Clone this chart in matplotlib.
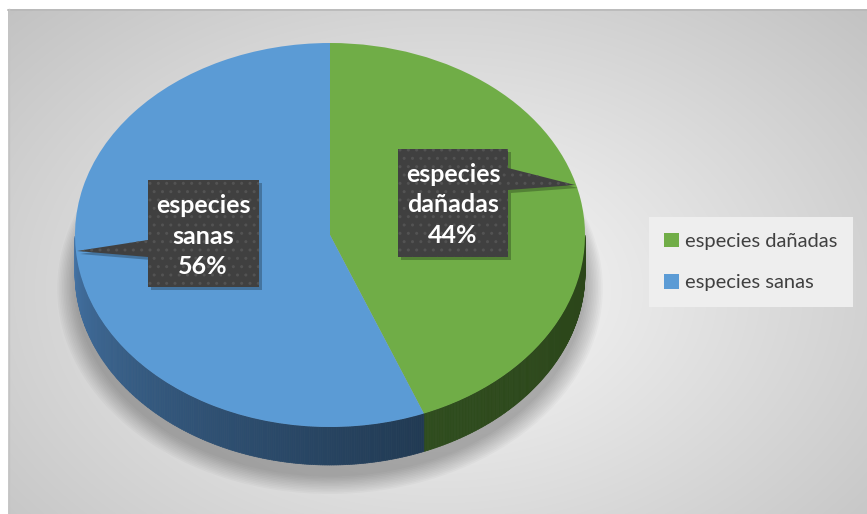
import matplotlib.pyplot as plt
import numpy as np
from matplotlib.collections import PolyCollection
from matplotlib.colors import to_rgb
from matplotlib.patches import Ellipse, Polygon

# datos del gráfico
categorias = ['especies dañadas', 'especies sanas']
porcentajes = [44, 56]
colores = ['#70ad47', '#5b9bd5']
colores_lado = [('#2f4d1e', '#2b4519'), ('#4676a8', '#213a53')]

W, H = 867, 514
fig = plt.figure(figsize=(W / 100, H / 100), dpi=100)
fig.patch.set_facecolor('white')

# fondo con degradado radial
bg = fig.add_axes([0, 0, 1, 1])
bg.set_xlim(0, W)
bg.set_ylim(H, 0)
bg.axis('off')
yy, xx = np.mgrid[0:H, 0:W]
d = np.sqrt(((xx - 440) / 480) ** 2 + ((yy - 290) / 330) ** 2)
gris = np.clip(250 - 45 * d, 0, 255)
gris[(xx < 8) | (yy < 9)] = 255
img = np.dstack([gris, gris, gris]) / 255
bg.imshow(img, extent=(0, W, H, 0), aspect='auto', zorder=0)
bg.plot([8, W], [9.5, 9.5], color='#b8b8b8', lw=1.2, zorder=1)
bg.plot([8.5, 8.5], [9, H], color='#c4c4c4', lw=1, zorder=1)

# pastel 3D: cara superior con ax.pie, lado con polígonos
prof = 38 / 192
ax = fig.add_axes([75 / W, (H - 465) / H, 510 / W, (465 - 43) / H])
ax.patch.set_alpha(0)
wedges, _ = ax.pie(porcentajes, colors=colores, startangle=90,
                   counterclock=False, radius=1,
                   wedgeprops=dict(linewidth=0, zorder=3))
ax.set_aspect('auto')
ax.set_xlim(-1, 1)
ax.set_ylim(-1 - prof, 1)
ax.axis('off')

# sombra difusa, desplazada hacia abajo
for s in np.linspace(0.0, 0.07, 12):
    ax.add_patch(Ellipse((0, -prof - 0.06 - s * 0.3), 2 * (1 + s), 2 * (1 + s),
                         facecolor='black', alpha=0.022, lw=0, zorder=1, clip_on=False))

for w, (c0, c1) in zip(wedges, colores_lado):
    t = np.radians(np.linspace(w.theta1, w.theta2, 400))
    t = t[np.sin(t) <= 0.001]
    if len(t) < 2:
        continue
    polys, cols = [], []
    a0 = np.array(to_rgb(c0))
    a1 = np.array(to_rgb(c1))
    for i in range(len(t) - 1):
        x0, x1 = np.cos(t[i]), np.cos(t[i + 1])
        y0, y1 = np.sin(t[i]), np.sin(t[i + 1])
        polys.append([(x0, y0), (x1, y1), (x1, y1 - prof), (x0, y0 - prof)])
        f = i / (len(t) - 2)
        cols.append(a0 + (a1 - a0) * f ** 0.8)
    ax.add_collection(PolyCollection(polys, facecolors=cols, edgecolors=cols,
                                     linewidths=0.5, zorder=2, clip_on=False))

# etiquetas con flecha, en una capa encima del pastel
capa = fig.add_axes([0, 0, 1, 1])
capa.set_xlim(0, W)
capa.set_ylim(H, 0)
capa.axis('off')
capa.patch.set_alpha(0)

globos = [
    [(398, 149), (508, 149), (508, 168), (575, 185), (508, 190), (508, 257), (398, 257)],
    [(148, 180), (259, 180), (259, 287), (148, 287), (148, 257), (77, 251), (148, 240)],
]
centros = [(453, 205), (203, 236)]
for nombre, v, pts, (cx, cy) in zip(categorias, porcentajes, globos, centros):
    sombra = [(x + 3, y + 3) for x, y in pts]
    capa.add_patch(Polygon(sombra, closed=True, facecolor='black', alpha=0.25,
                           lw=0, zorder=4))
    capa.add_patch(Polygon(pts, closed=True, facecolor='#404040', edgecolor='#535353',
                           hatch='..', lw=0, zorder=5))
    palabras = nombre.split()
    texto = f'{palabras[0]}\n{palabras[1]}\n{v}%'
    capa.text(cx, cy, texto, ha='center', va='center', color='white',
              fontsize=18, fontweight='bold', family='Lato', linespacing=1.4,
              zorder=6)

leg = fig.legend(wedges, categorias, loc='center left',
                 bbox_to_anchor=(649 / W, 1 - 262 / H), frameon=True,
                 facecolor='#eeeeee', edgecolor='none', fancybox=False,
                 framealpha=1, handlelength=0.75, handleheight=0.75,
                 handletextpad=0.3, labelspacing=1.2, borderpad=0.75,
                 borderaxespad=0, prop=dict(family='Lato', size=14.5))
for t in leg.get_texts():
    t.set_color('#404040')

fig.savefig('out.png', dpi=100)
